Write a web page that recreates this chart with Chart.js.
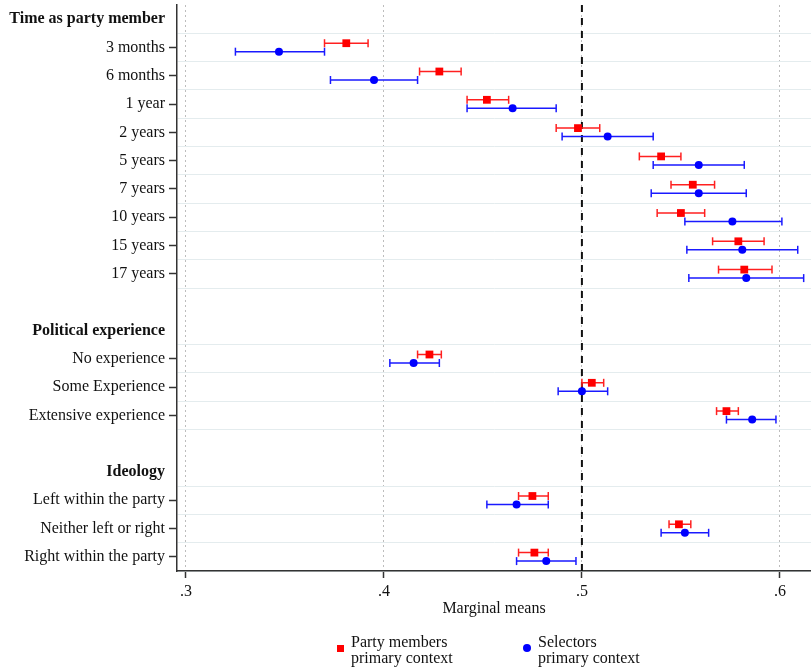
<!DOCTYPE html>
<html>
<head>
<meta charset="utf-8">
<script src="https://cdn.jsdelivr.net/npm/chart.js@4/dist/chart.umd.min.js"></script>
<style>
  body { margin: 0; background: #fff; }
  #wrap { position: relative; width: 811px; height: 668px; font-family: "Liberation Serif", serif; }
  .key { position: absolute; font-size: 16px; line-height: 16px; color: #111; }
  .sq { position: absolute; width: 7px; height: 7px; background: #ff0000; }
  .dot { position: absolute; width: 8px; height: 8px; border-radius: 50%; background: #0000ff; }
</style>
</head>
<body>
<div id="wrap">
  <canvas id="plot" width="811" height="668"></canvas>
  <div class="sq" style="left:337px; top:645px;"></div>
  <div class="key" style="left:351px; top:634px;">Party members<br>primary context</div>
  <div class="dot" style="left:523px; top:644px;"></div>
  <div class="key" style="left:538px; top:634px;">Selectors<br>primary context</div>
</div>
<script>
// rows of the y axis, top to bottom (headers and blank spacer rows included)
const rowLabels = ["Time as party member", "3 months", "6 months", "1 year", "2 years", "5 years",
  "7 years", "10 years", "15 years", "17 years", "", "Political experience", "No experience",
  "Some Experience", "Extensive experience", "", "Ideology", "Left within the party",
  "Neither left or right", "Right within the party"];
const headerRows = ["Time as party member", "Political experience", "Ideology"];

const categories = ["3 months", "6 months", "1 year", "2 years", "5 years", "7 years", "10 years",
  "15 years", "17 years", "No experience", "Some Experience", "Extensive experience",
  "Left within the party", "Neither left or right", "Right within the party"];

// Party members, primary context
const partyMean = [0.381, 0.428, 0.452, 0.498, 0.540, 0.556, 0.550, 0.579, 0.582, 0.423, 0.505, 0.573, 0.475, 0.549, 0.476];
const partyLow  = [0.370, 0.418, 0.442, 0.487, 0.529, 0.545, 0.538, 0.566, 0.569, 0.417, 0.500, 0.568, 0.468, 0.544, 0.468];
const partyHigh = [0.392, 0.439, 0.463, 0.509, 0.550, 0.567, 0.562, 0.592, 0.596, 0.429, 0.511, 0.579, 0.483, 0.555, 0.483];

// Selectors, primary context
const selMean = [0.347, 0.395, 0.465, 0.513, 0.559, 0.559, 0.576, 0.581, 0.583, 0.415, 0.500, 0.586, 0.467, 0.552, 0.482];
const selLow  = [0.325, 0.373, 0.442, 0.490, 0.536, 0.535, 0.552, 0.553, 0.554, 0.403, 0.488, 0.573, 0.452, 0.540, 0.467];
const selHigh = [0.370, 0.417, 0.487, 0.536, 0.582, 0.583, 0.601, 0.609, 0.612, 0.428, 0.513, 0.598, 0.483, 0.564, 0.497];

const xTicks = [0.3, 0.4, 0.5, 0.6];
const refValue = 0.5;

const FONT = "'Liberation Serif', 'Times New Roman', serif";
const shift = 0.15;
const itemRows = categories.map(c => rowLabels.indexOf(c));

function points(vals, dy) {
  return vals.map((v, i) => ({ x: v, y: itemRows[i] + dy }));
}
function bars(lo, hi, dy) {
  const out = [];
  lo.forEach((v, i) => {
    out.push({ x: v, y: itemRows[i] + dy });
    out.push({ x: hi[i], y: itemRows[i] + dy });
    out.push({ x: null, y: null });
  });
  return out;
}
function isItem(r) { return itemRows.includes(r); }

const ctx = document.getElementById("plot").getContext("2d");

new Chart(ctx, {
  type: "scatter",
  data: {
    datasets: [
      {
        data: points(partyMean, -shift),
        pointStyle: "rect", pointRadius: 5.5, pointBorderWidth: 0,
        backgroundColor: "#ff0000", borderColor: "#ff0000", order: 0
      },
      {
        data: points(selMean, shift),
        pointStyle: "circle", pointRadius: 4, pointBorderWidth: 0,
        backgroundColor: "#0000ff", borderColor: "#0000ff", order: 0
      },
      {
        data: bars(partyLow, partyHigh, -shift), showLine: true, spanGaps: false,
        borderColor: "#ff2020", borderWidth: 1.5,
        pointStyle: "line", rotation: 90, pointRadius: 4, pointBorderWidth: 1.5,
        pointBorderColor: "#ff2020", order: 1
      },
      {
        data: bars(selLow, selHigh, shift), showLine: true, spanGaps: false,
        borderColor: "#1a1aff", borderWidth: 1.5,
        pointStyle: "line", rotation: 90, pointRadius: 4, pointBorderWidth: 1.5,
        pointBorderColor: "#1a1aff", order: 1
      },
      {
        data: [{ x: refValue, y: -0.5 }, { x: refValue, y: rowLabels.length - 0.5 }],
        showLine: true, borderColor: "#111", borderWidth: 2, borderDash: [7, 6],
        pointRadius: 0, order: 2
      }
    ]
  },
  options: {
    responsive: false,
    animation: false,
    events: [],
    layout: { autoPadding: false, padding: { top: 5, right: 0, bottom: 51, left: 0 } },
    plugins: { legend: { display: false }, tooltip: { enabled: false } },
    scales: {
      x: {
        type: "linear",
        min: 0.2955, max: 0.6157,
        afterBuildTicks: s => { s.ticks = xTicks.map(v => ({ value: v })); },
        afterFit: s => { s.paddingLeft = 0; s.paddingRight = 0; },
        grid: { color: "#bdbdbd", lineWidth: 1, tickColor: "#333", tickLength: 7, tickWidth: 1.5 },
        border: { color: "#333", width: 1.5, dash: [2, 3] },
        ticks: {
          color: "#111", padding: 6,
          font: { family: FONT, size: 16, lineHeight: 1 },
          callback: v => v.toFixed(1).replace(/^0/, "")
        },
        title: {
          display: true, text: "Marginal means", color: "#111",
          font: { family: FONT, size: 16, lineHeight: 1 },
          padding: { top: -5, bottom: 0 }
        }
      },
      y: {
        type: "linear",
        reverse: true,
        min: -0.5, max: rowLabels.length - 0.5,
        afterBuildTicks: s => {
          const t = [];
          for (let v = -0.5; v <= rowLabels.length - 0.5; v += 0.5) t.push({ value: v });
          s.ticks = t;
        },
        afterFit: s => { s.width = 177; s.paddingTop = 0; s.paddingBottom = 0; },
        grid: {
          lineWidth: 1, tickLength: 8, tickWidth: 1.5,
          color: c => {
            const v = c.tick.value;
            if (Number.isInteger(v)) return "rgba(0,0,0,0)";
            return (isItem(v - 0.5) || isItem(v + 0.5)) ? "#e4ecee" : "rgba(0,0,0,0)";
          },
          tickColor: c => {
            const v = c.tick.value;
            return (Number.isInteger(v) && isItem(v)) ? "#333" : "rgba(0,0,0,0)";
          }
        },
        border: { color: "#333", width: 1.5 },
        ticks: {
          autoSkip: false, padding: 4, color: "#111",
          font: c => ({
            family: FONT, size: 16,
            weight: headerRows.includes(rowLabels[c.tick && c.tick.value]) ? "bold" : "normal"
          }),
          callback: v => Number.isInteger(v) ? rowLabels[v] : ""
        }
      }
    }
  }
});
</script>
</body>
</html>
